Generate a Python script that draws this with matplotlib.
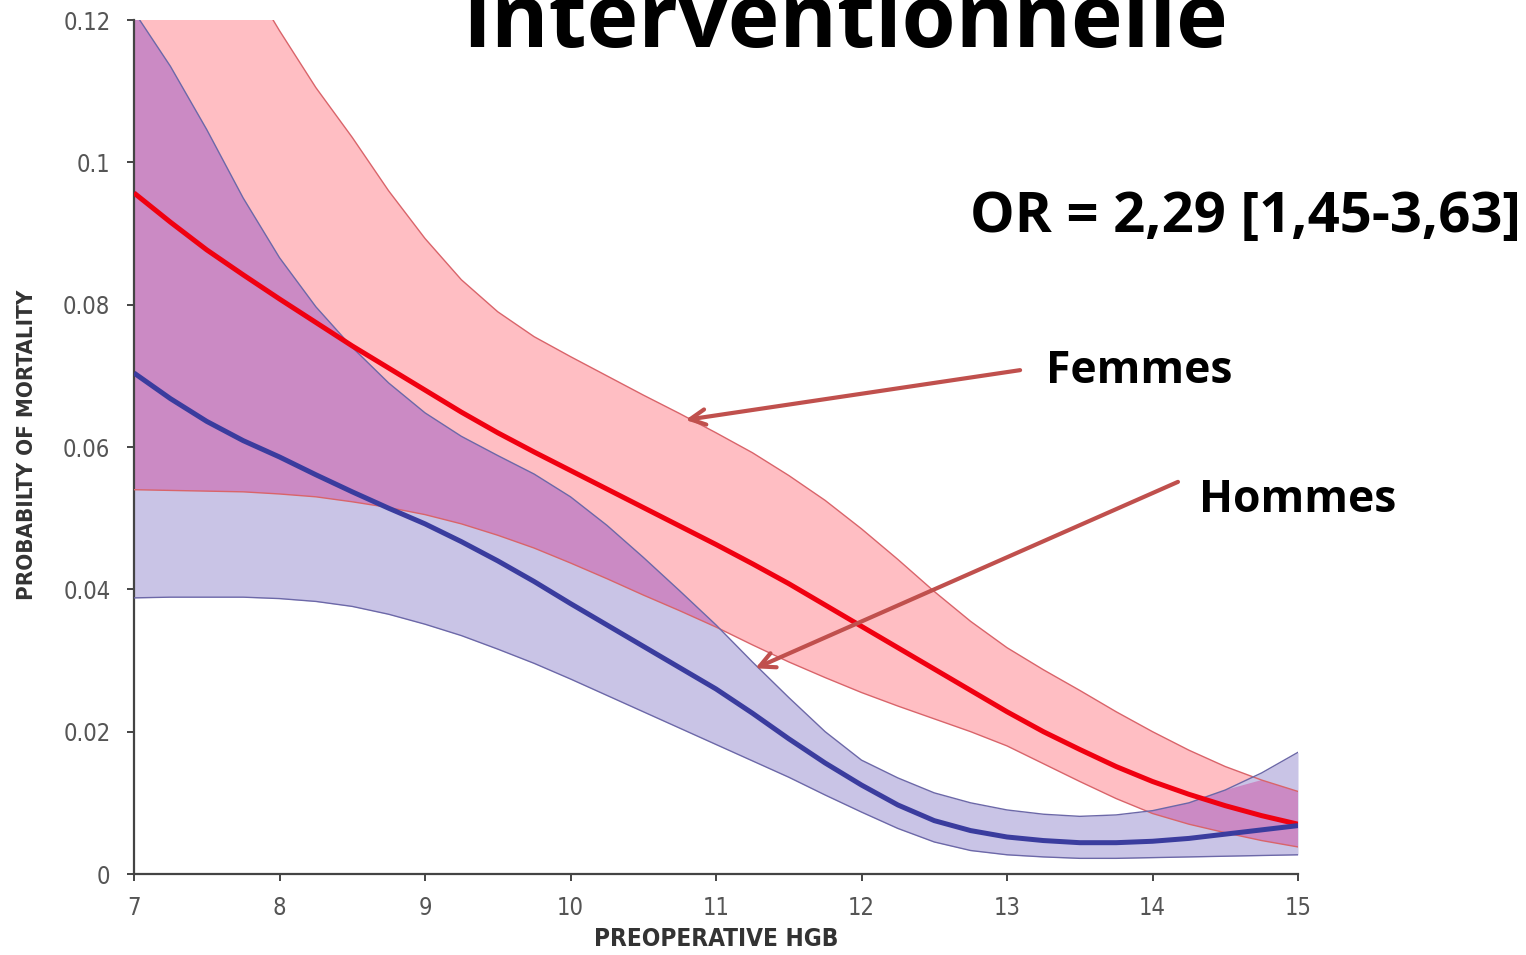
import numpy as np
import matplotlib
matplotlib.use("Agg")
import matplotlib.pyplot as plt

# ---------------- data ----------------
hgb = [7, 7.25, 7.5, 7.75, 8, 8.25, 8.5, 8.75, 9, 9.25, 9.5, 9.75, 10, 10.25, 10.5, 10.75,
       11, 11.25, 11.5, 11.75, 12, 12.25, 12.5, 12.75, 13, 13.25, 13.5, 13.75, 14, 14.25,
       14.5, 14.75, 15]

femmes_mid = [0.0957, 0.0916, 0.0877, 0.0842, 0.0808, 0.0775, 0.0742, 0.0711, 0.0680,
              0.0649, 0.0620, 0.0593, 0.0567, 0.0541, 0.0515, 0.0489, 0.0463, 0.0436,
              0.0408, 0.0378, 0.0348, 0.0318, 0.0288, 0.0258, 0.0228, 0.0200, 0.0175,
              0.0151, 0.0130, 0.0112, 0.0096, 0.0082, 0.0070]
femmes_hi = [0.152, 0.144, 0.136, 0.127, 0.1185, 0.1105, 0.1035, 0.0960, 0.0893,
             0.0835, 0.0790, 0.0755, 0.0727, 0.0700, 0.0673, 0.0647, 0.0620, 0.0592,
             0.0560, 0.0525, 0.0485, 0.0442, 0.0397, 0.0355, 0.0318, 0.0287, 0.0258,
             0.0228, 0.0200, 0.0174, 0.0151, 0.0132, 0.0116]
femmes_lo = [0.0540, 0.0539, 0.0538, 0.0537, 0.0534, 0.0530, 0.0523, 0.0515, 0.0505,
             0.0492, 0.0476, 0.0458, 0.0437, 0.0415, 0.0392, 0.0370, 0.0347, 0.0322,
             0.0298, 0.0276, 0.0255, 0.0236, 0.0218, 0.0200, 0.0180, 0.0155, 0.0130,
             0.0106, 0.0085, 0.0070, 0.0058, 0.0047, 0.0038]

hommes_mid = [0.0704, 0.0668, 0.0636, 0.0609, 0.0586, 0.0561, 0.0537, 0.0514, 0.0492,
              0.0467, 0.0440, 0.0411, 0.0380, 0.0350, 0.0320, 0.0290, 0.0260, 0.0226,
              0.0190, 0.0156, 0.0125, 0.0097, 0.0075, 0.0061, 0.0052, 0.0047, 0.0044,
              0.0044, 0.0046, 0.0050, 0.0056, 0.0062, 0.0068]
hommes_hi = [0.1212, 0.1135, 0.1046, 0.0950, 0.0866, 0.0797, 0.0740, 0.0690, 0.0648,
             0.0615, 0.0588, 0.0562, 0.0530, 0.0490, 0.0445, 0.0398, 0.0350, 0.0298,
             0.0248, 0.0200, 0.0160, 0.0135, 0.0114, 0.0100, 0.0090, 0.0084, 0.0081,
             0.0083, 0.0089, 0.0100, 0.0118, 0.0142, 0.0171]
hommes_lo = [0.0388, 0.0389, 0.0389, 0.0389, 0.0387, 0.0383, 0.0376, 0.0365, 0.0351,
             0.0335, 0.0316, 0.0296, 0.0274, 0.0251, 0.0228, 0.0205, 0.0182, 0.0159,
             0.0136, 0.0111, 0.0087, 0.0064, 0.0045, 0.0033, 0.0027, 0.0024, 0.0022,
             0.0022, 0.0023, 0.0024, 0.0025, 0.0026, 0.0027]

x_ticks = [7, 8, 9, 10, 11, 12, 13, 14, 15]
y_ticks = [0, 0.02, 0.04, 0.06, 0.08, 0.1, 0.12]
y_tick_labels = ["0", "0.02", "0.04", "0.06", "0.08", "0.1", "0.12"]

title = "Interventionnelle"
or_text = "OR = 2,29 [1,45-3,63]"
label_f = "Femmes"
label_h = "Hommes"
xlabel = "PREOPERATIVE HGB"
ylabel = "PROBABILTY OF MORTALITY"

# ---------------- figure ----------------
W, H = 1526, 955
fig = plt.figure(figsize=(W / 100, H / 100), dpi=100)
ax = fig.add_axes([134 / W, 1 - 874 / H, (1298 - 134) / W, (874 - 20) / H])

x = np.array(hgb)
f_mid, f_hi, f_lo = map(np.array, (femmes_mid, femmes_hi, femmes_lo))
h_mid, h_hi, h_lo = map(np.array, (hommes_mid, hommes_hi, hommes_lo))

pink = "#FFBEC3"
lav = "#C9C4E6"
purple = "#CB8AC4"

ax.fill_between(x, f_lo, f_hi, color=pink, lw=0, zorder=1)
ax.fill_between(x, h_lo, h_hi, color=lav, lw=0, zorder=1)
ov_lo = np.maximum(f_lo, h_lo)
ov_hi = np.minimum(f_hi, h_hi)
ax.fill_between(x, ov_lo, ov_hi, where=ov_hi > ov_lo, interpolate=True,
                color=purple, lw=0, zorder=2)

red_edge = "#D9646A"
blue_edge = "#6C68A8"
for arr in (f_hi, f_lo):
    ax.plot(x, arr, color=red_edge, lw=1.0, zorder=3)
for arr in (h_hi, h_lo):
    ax.plot(x, arr, color=blue_edge, lw=1.0, zorder=3)

ax.plot(x, f_mid, color="#F00010", lw=3.6, zorder=4, solid_capstyle="butt")
ax.plot(x, h_mid, color="#3A3C9E", lw=3.6, zorder=5, solid_capstyle="butt")

ax.set_xlim(7, 15)
ax.set_ylim(0, 0.12)
ax.set_xticks(x_ticks)
ax.set_yticks(y_ticks)
ax.set_yticklabels(y_tick_labels)

for s in ("top", "right"):
    ax.spines[s].set_visible(False)
for s in ("left", "bottom"):
    ax.spines[s].set_color("#444444")
    ax.spines[s].set_linewidth(1.6)
ax.patch.set_alpha(0)

narrow = ["DejaVu Sans"]
ax.tick_params(axis="both", direction="out", length=5, width=1.4, color="#444444",
               labelcolor="#555555", labelsize=17)
ax.tick_params(axis="x", pad=11)
ax.tick_params(axis="y", pad=12)
for lab in ax.get_xticklabels() + ax.get_yticklabels():
    lab.set_family(narrow)
    lab.set_stretch("condensed")

ax.set_xlabel(xlabel, family=narrow, fontweight="bold", fontsize=17.5, color="#333333",
              labelpad=5, fontstretch="condensed")
fig.text(27 / W, 1 - 445 / H, ylabel, rotation=90, ha="center", va="center",
         family=narrow, fontweight="bold", fontsize=16, color="#333333",
         fontstretch="condensed")

# ---------------- annotations ----------------
bold = ["Open Sans", "DejaVu Sans"]
fig.text(845 / W, 1 - 47 / H, title, ha="center", va="baseline", family=bold,
         fontweight="bold", fontsize=63, color="black")
fig.text(970 / W, 1 - 232 / H, or_text, ha="left", va="baseline", family=bold,
         fontweight="bold", fontsize=40.5, color="black")
fig.text(1046 / W, 1 - 383 / H, label_f, ha="left", va="baseline", family=bold,
         fontweight="bold", fontsize=32, color="black")
fig.text(1199 / W, 1 - 512 / H, label_h, ha="left", va="baseline", family=bold,
         fontweight="bold", fontsize=32, color="black")

arrow_col = "#C0504D"
ap = dict(arrowstyle="->,head_length=1.1,head_width=0.55", color=arrow_col, lw=3,
          shrinkA=0, shrinkB=0)
ax.annotate("", xy=(10.79, 0.0638), xytext=(13.09, 0.0708), arrowprops=ap,
            annotation_clip=False, zorder=6)
ax.annotate("", xy=(11.27, 0.0289), xytext=(14.175, 0.0551), arrowprops=ap,
            annotation_clip=False, zorder=6)

fig.savefig("out.png", dpi=100)
